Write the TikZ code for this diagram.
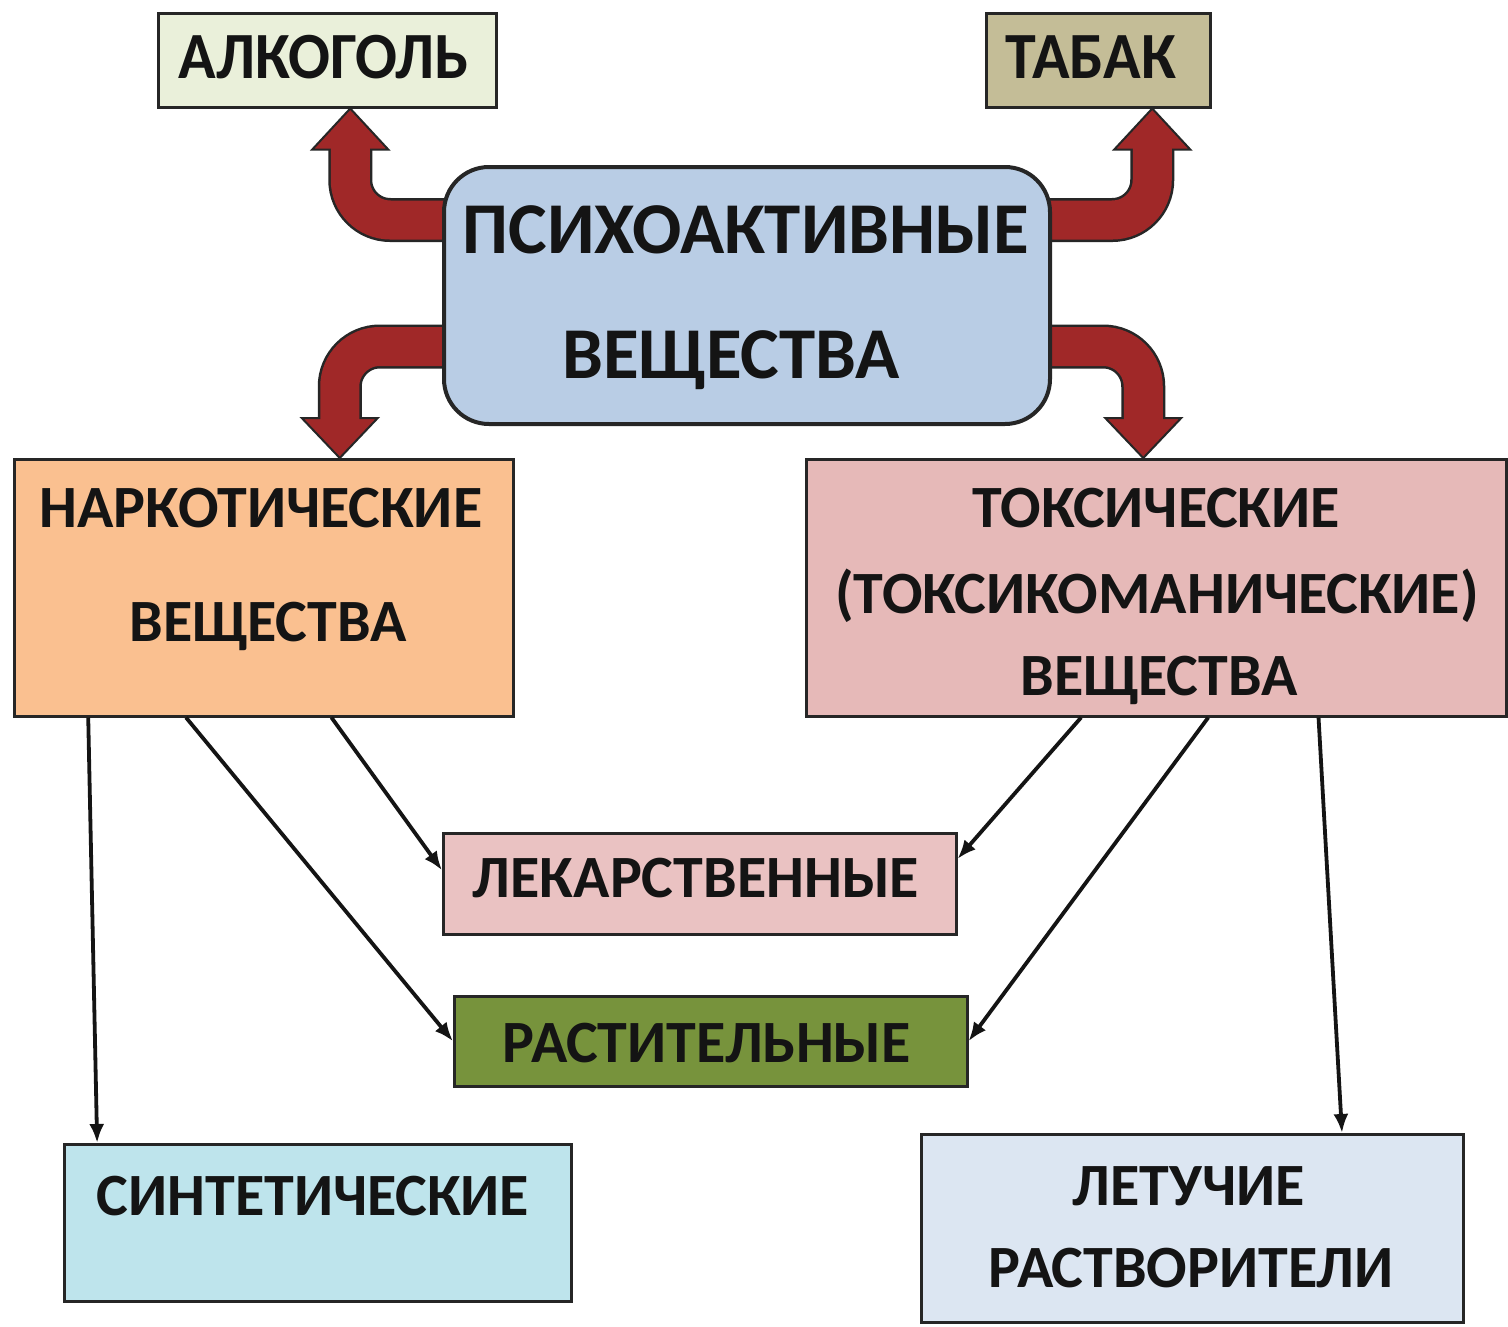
\documentclass[tikz,border=0pt]{standalone}
\usepackage{fontspec}
\setmainfont{Carlito}
\usetikzlibrary{arrows.meta,calc}
\pgfdeclarelayer{background}
\pgfsetlayers{background,main}
\definecolor{alcC}{RGB}{234,240,218}
\definecolor{tabC}{RGB}{196,189,151}
\definecolor{psyC}{RGB}{185,205,229}
\definecolor{narC}{RGB}{250,192,144}
\definecolor{toxC}{RGB}{230,185,184}
\definecolor{lekC}{RGB}{234,194,194}
\definecolor{rasC}{RGB}{119,147,60}
\definecolor{synC}{RGB}{190,228,236}
\definecolor{letC}{RGB}{220,230,242}
\definecolor{arrC}{RGB}{160,40,40}
\definecolor{inkC}{RGB}{20,20,20}
\newcommand{\bigarrow}[3]{%
  \draw[line width=44pt, draw=black!85, rounded corners=40pt] (#1) -| ($(#2)!4pt!(#3)$);
  \filldraw[fill=arrC, draw=black!85, line width=2pt, line join=miter] ([xshift=-38pt]#2) -- ([xshift=38pt]#2) -- (#3) -- cycle;
  \draw[line width=39pt, draw=arrC, rounded corners=40pt] (#1) -| ($(#2)!4pt!(#3)$);
}
\begin{document}
\begin{tikzpicture}[x=1pt,y=-1pt,
  box/.style={draw=black!85, line width=2.5pt, rectangle, inner sep=0pt, anchor=north west},
  lbl/.style={anchor=base, inner sep=0pt, text=inkC},
  big/.style={lbl, font=\fontsize{73}{73}\selectfont\bfseries},
  mid/.style={lbl, font=\fontsize{60}{60}\selectfont\bfseries},
  thinarrow/.style={line width=3.8pt, draw=inkC, -{Latex[length=19pt,width=15pt]}}]
\useasboundingbox (0,0) rectangle (1508,1326);
% boxes
\node[box, fill=alcC, minimum width=338pt, minimum height=94pt] (alc) at (157,12) {};
\node[box, fill=tabC, minimum width=224pt, minimum height=94pt] (tab) at (985,12) {};
\node[box, fill=psyC, rounded corners=45pt, line width=4pt, minimum width=606pt, minimum height=257pt] (psy) at (442,165) {};
\node[box, fill=narC, minimum width=499pt, minimum height=257pt] (nar) at (13,458) {};
\node[box, fill=toxC, minimum width=700pt, minimum height=257pt] (tox) at (805,458) {};
\node[box, fill=lekC, minimum width=513pt, minimum height=101pt] (lek) at (442,832) {};
\node[box, fill=rasC, minimum width=513pt, minimum height=90pt] (ras) at (453,995) {};
\node[box, fill=synC, minimum width=507pt, minimum height=157pt] (syn) at (63,1143) {};
\node[box, fill=letC, minimum width=542pt, minimum height=188pt] (let) at (920,1133) {};
% texts
\node[lbl, font=\fontsize{66}{66}\selectfont\bfseries] (alcT) at (324,78) {\scalebox{0.94}[1]{АЛКОГОЛЬ}};
\node[lbl, font=\fontsize{66}{66}\selectfont\bfseries] (tabT) at (1091,78) {\scalebox{0.94}[1]{ТАБАК}};
\node[big] (psyT1) at (746,253) {ПСИХОАКТИВНЫЕ};
\node[big] (psyT2) at (731,378) {ВЕЩЕСТВА};
\node[mid] (narT1) at (261,527) {НАРКОТИЧЕСКИЕ};
\node[mid] (narT2) at (268,641) {ВЕЩЕСТВА};
\node[mid] (toxT1) at (1156,527) {ТОКСИЧЕСКИЕ};
\node[mid] (toxT2) at (1157,613) {(ТОКСИКОМАНИЧЕСКИЕ)};
\node[mid] (toxT3) at (1159,695) {ВЕЩЕСТВА};
\node[mid] (lekT) at (696,897) {ЛЕКАРСТВЕННЫЕ};
\node[mid] (rasT) at (707,1062) {РАСТИТЕЛЬНЫЕ};
\node[mid] (synT) at (313,1215) {СИНТЕТИЧЕСКИЕ};
\node[mid] (letT1) at (1189,1205) {ЛЕТУЧИЕ};
\node[mid] (letT2) at (1191,1287) {РАСТВОРИТЕЛИ};
% big curved arrows
\coordinate (ulS) at ([xshift=40pt,yshift=75.5pt]psy.west);
\coordinate (ulT) at ([xshift=23pt]alc.south);
\coordinate (ulB) at ([yshift=-41pt]ulT);
\coordinate (llS) at ([xshift=40pt,yshift=-51pt]psy.west);
\coordinate (llT) at ([xshift=76pt]nar.north);
\coordinate (llB) at ([yshift=40pt]llT);
\coordinate (urS) at ([xshift=-40pt,yshift=75.5pt]psy.east);
\coordinate (urT) at ([xshift=54pt]tab.south);
\coordinate (urB) at ([yshift=-41pt]urT);
\coordinate (lrS) at ([xshift=-40pt,yshift=-51pt]psy.east);
\coordinate (lrT) at ([xshift=-13pt]tox.north);
\coordinate (lrB) at ([yshift=40pt]lrT);
\begin{pgfonlayer}{background}
\fill[white] (0,0) rectangle (1508,1326);
\bigarrow{ulS}{ulB}{ulT}
\bigarrow{llS}{llB}{llT}
\bigarrow{urS}{urB}{urT}
\bigarrow{lrS}{lrB}{lrT}
\end{pgfonlayer}
% thin arrows
\coordinate (a1s) at ($(nar.south west)!0.15!(nar.south east)$);
\coordinate (a1e) at ($(syn.north west)!0.067!(syn.north east)$);
\coordinate (a2s) at ($(nar.south west)!0.345!(nar.south east)$);
\coordinate (a3s) at ($(nar.south west)!0.635!(nar.south east)$);
\coordinate (a3e) at ($(lek.north west)!0.37!(lek.south west)$);
\coordinate (a4s) at ($(tox.south west)!0.393!(tox.south east)$);
\coordinate (a4e) at ($(lek.north east)!0.26!(lek.south east)$);
\coordinate (a5s) at ($(tox.south west)!0.574!(tox.south east)$);
\coordinate (a6s) at ($(tox.south west)!0.731!(tox.south east)$);
\coordinate (a6e) at ($(let.north west)!0.775!(let.north east)$);
\draw[thinarrow] (a1s) -- (a1e);
\draw[thinarrow] (a2s) -- (ras.west);
\draw[thinarrow] (a3s) -- (a3e);
\draw[thinarrow] (a4s) -- (a4e);
\draw[thinarrow] (a5s) -- (ras.east);
\draw[thinarrow] (a6s) -- (a6e);
\end{tikzpicture}
\end{document}
